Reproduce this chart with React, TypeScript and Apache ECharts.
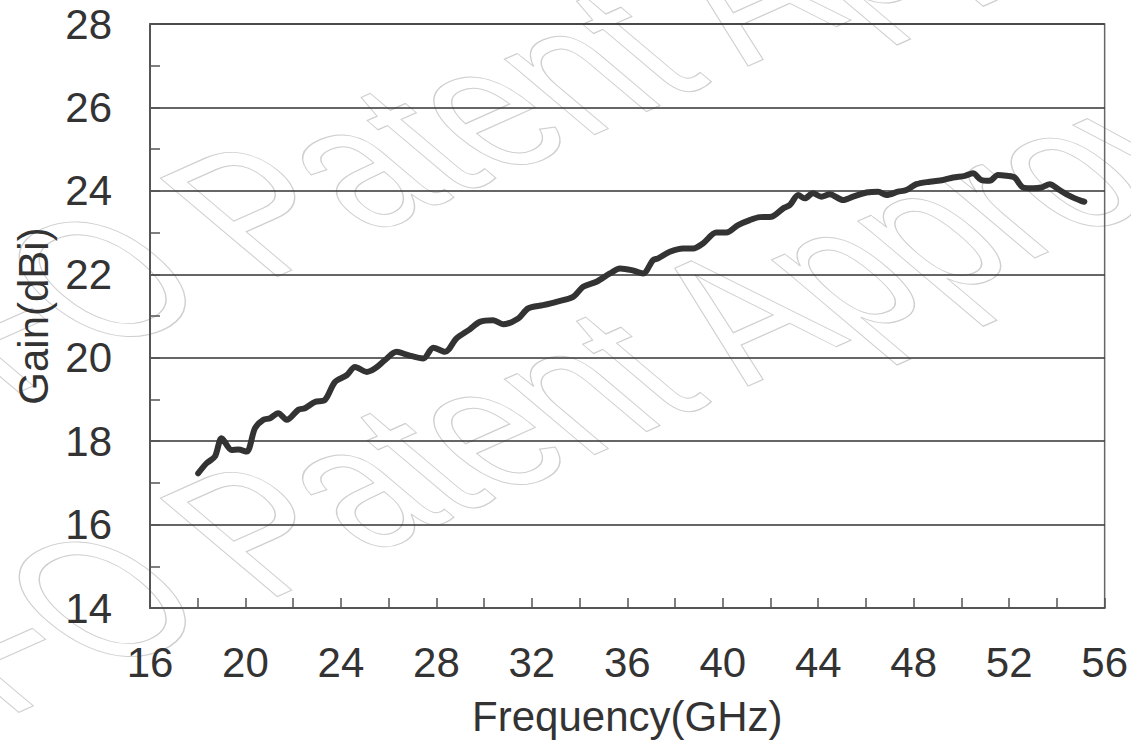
import React, { useEffect, useRef } from "react";
import * as echarts from "echarts";

const frequencyGHz = [
  18.02, 18.37, 18.72, 19.0, 19.42, 19.7, 20.05, 20.4, 20.75, 21.03, 21.37, 21.73, 22.21, 22.49, 22.91, 23.33,
  23.75, 24.24, 24.59, 25.08, 25.42, 25.84, 26.33, 26.82, 27.45, 27.87, 28.36, 28.84, 29.4, 29.82, 30.38, 30.8,
  31.43, 31.84, 32.47, 33.03, 33.73, 34.15, 34.71, 35.27, 35.69, 36.18, 36.66, 37.08, 37.29, 37.78, 38.34, 38.76,
  39.17, 39.73, 40.15, 40.64, 41.13, 41.55, 42.04, 42.53, 42.81, 43.16, 43.43, 43.78, 44.13, 44.48, 45.04, 45.46,
  46.02, 46.51, 46.86, 47.34, 47.69, 48.11, 48.67, 49.23, 49.65, 50.14, 50.48, 50.83, 51.18, 51.53, 51.88, 52.23,
  52.58, 53.0, 53.35, 53.7, 54.11, 54.53, 55.02, 55.15,
];
const gainDBi = [
  17.23, 17.47, 17.63, 18.07, 17.79, 17.8, 17.75, 18.31, 18.51, 18.55, 18.67, 18.51, 18.75, 18.79, 18.94, 18.99,
  19.42, 19.58, 19.78, 19.66, 19.74, 19.94, 20.14, 20.06, 19.98, 20.24, 20.14, 20.46, 20.68, 20.86, 20.9, 20.8,
  20.94, 21.18, 21.26, 21.34, 21.46, 21.7, 21.82, 22.02, 22.14, 22.1, 22.02, 22.34, 22.38, 22.54, 22.62, 22.62,
  22.74, 23.0, 23.0, 23.18, 23.3, 23.37, 23.38, 23.58, 23.66, 23.9, 23.82, 23.94, 23.86, 23.92, 23.78, 23.86,
  23.96, 23.98, 23.9, 23.98, 24.02, 24.16, 24.22, 24.26, 24.32, 24.36, 24.42, 24.26, 24.24, 24.38, 24.36, 24.32,
  24.08, 24.06, 24.08, 24.16, 24.02, 23.88, 23.76, 23.74,
];

const xTicks = { min: 16, max: 56, interval: 4 };
const yTicks = { min: 14, max: 28, interval: 2 };
const xTitle = "Frequency(GHz)";
const yTitle = "Gain(dBi)";
const watermark = "NFO Patent Approved";

export default function App() {
  const ref = useRef<HTMLDivElement>(null);
  useEffect(() => {
    if (!ref.current) return;
    const chart = echarts.init(ref.current, undefined, { renderer: "svg" });
    const font = "'Liberation Sans', Arial, sans-serif";
    const wmStyle = {
      fill: "none",
      stroke: "#cfcfcf",
      lineWidth: 1.2,
      fontSize: 200,
      fontFamily: font,
      verticalAlign: "bottom",
      align: "left",
    };
    const wm = (x: number, y: number) => ({
      type: "text",
      x,
      y,
      rotation: 0.42,
      skewX: 0.45,
      scaleX: 0.85,
      scaleY: 1,
      z: -10,
      silent: true,
      style: { ...wmStyle, text: watermark },
    });
    chart.setOption({
      animation: false,
      backgroundColor: "#ffffff",
      grid: {
        left: 150,
        right: 26,
        top: 24,
        bottom: 138,
        show: true,
        borderColor: "#666",
        borderWidth: 1.5,
        backgroundColor: "transparent",
      },
      graphic: [wm(-80, 470), wm(-80, 790)],
      xAxis: {
        type: "value",
        min: xTicks.min,
        max: xTicks.max,
        interval: xTicks.interval,
        name: xTitle,
        nameLocation: "middle",
        nameGap: 87,
        nameTextStyle: { fontSize: 42, color: "#333", fontFamily: font },
        axisLine: { show: true, lineStyle: { color: "#555", width: 2 } },
        axisTick: { show: true, inside: true, length: 10, lineStyle: { color: "#555", width: 1.5 } },
        minorTick: { show: true, splitNumber: 2, length: 10, lineStyle: { color: "#555", width: 1.5 } },
        axisLabel: { fontSize: 42, color: "#333", fontFamily: font, margin: 33 },
        splitLine: { show: false },
      },
      yAxis: {
        type: "value",
        min: yTicks.min,
        max: yTicks.max,
        interval: yTicks.interval,
        name: yTitle,
        nameLocation: "middle",
        nameGap: 96,
        nameTextStyle: { fontSize: 42, color: "#333", fontFamily: font },
        axisLine: { show: true, lineStyle: { color: "#555", width: 2 } },
        axisTick: { show: true, inside: true, length: 10, lineStyle: { color: "#555", width: 1.5 } },
        minorTick: { show: true, splitNumber: 2, length: 10, lineStyle: { color: "#555", width: 1.5 } },
        axisLabel: { fontSize: 42, color: "#333", fontFamily: font, margin: 38 },
        splitLine: { show: true, lineStyle: { color: "#333", width: 1.5 } },
      },
      series: [
        {
          type: "line",
          data: frequencyGHz.map((f, i) => [f, gainDBi[i]]),
          showSymbol: false,
          smooth: 0.3,
          lineStyle: { color: "#333", width: 6, cap: "round", join: "round" },
        },
      ],
    });
    return () => chart.dispose();
  }, []);
  return (
    <div
      ref={ref}
      style={{ position: "absolute", left: 0, top: 0, width: 1131, height: 746 }}
    />
  );
}
